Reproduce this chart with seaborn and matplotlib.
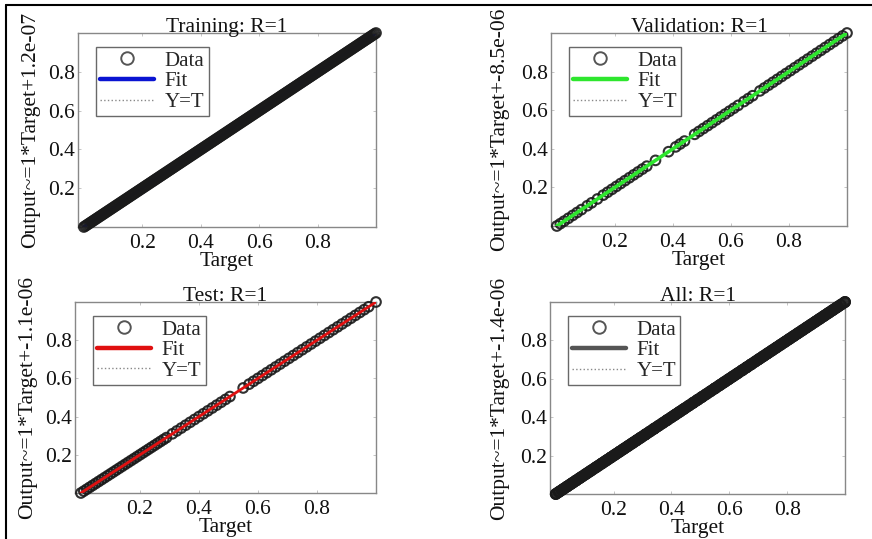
import matplotlib
matplotlib.use("Agg")
import matplotlib.pyplot as plt
import seaborn as sns
import pandas as pd
from matplotlib.lines import Line2D

sns.set_theme(style="white")
plt.rcParams['font.family'] = ['Liberation Serif', 'DejaVu Serif']

# ---- data (targets; outputs equal targets, R=1) ----
training_targets = [
    0.000, 0.005, 0.010, 0.015, 0.020, 0.025, 0.030, 0.035, 0.040, 0.045,
    0.050, 0.055, 0.060, 0.065, 0.070, 0.075, 0.080, 0.085, 0.090, 0.095,
    0.100, 0.105, 0.110, 0.115, 0.120, 0.125, 0.130, 0.135, 0.140, 0.145,
    0.150, 0.155, 0.160, 0.165, 0.170, 0.175, 0.180, 0.185, 0.190, 0.195,
    0.200, 0.205, 0.210, 0.215, 0.220, 0.225, 0.230, 0.235, 0.240, 0.245,
    0.250, 0.255, 0.260, 0.265, 0.270, 0.275, 0.280, 0.285, 0.290, 0.295,
    0.300, 0.305, 0.310, 0.315, 0.320, 0.325, 0.330, 0.335, 0.340, 0.345,
    0.350, 0.355, 0.360, 0.365, 0.370, 0.375, 0.380, 0.385, 0.390, 0.395,
    0.400, 0.405, 0.410, 0.415, 0.420, 0.425, 0.430, 0.435, 0.440, 0.445,
    0.450, 0.455, 0.460, 0.465, 0.470, 0.475, 0.480, 0.485, 0.490, 0.495,
    0.500, 0.505, 0.510, 0.515, 0.520, 0.525, 0.530, 0.535, 0.540, 0.545,
    0.550, 0.555, 0.560, 0.565, 0.570, 0.575, 0.580, 0.585, 0.590, 0.595,
    0.600, 0.605, 0.610, 0.615, 0.620, 0.625, 0.630, 0.635, 0.640, 0.645,
    0.650, 0.655, 0.660, 0.665, 0.670, 0.675, 0.680, 0.685, 0.690, 0.695,
    0.700, 0.705, 0.710, 0.715, 0.720, 0.725, 0.730, 0.735, 0.740, 0.745,
    0.750, 0.755, 0.760, 0.765, 0.770, 0.775, 0.780, 0.785, 0.790, 0.795,
    0.800, 0.805, 0.810, 0.815, 0.820, 0.825, 0.830, 0.835, 0.840, 0.845,
    0.850, 0.855, 0.860, 0.865, 0.870, 0.875, 0.880, 0.885, 0.890, 0.895,
    0.900, 0.905, 0.910, 0.915, 0.920, 0.925, 0.930, 0.935, 0.940, 0.945,
    0.950, 0.955, 0.960, 0.965, 0.970, 0.975, 0.980, 0.985, 0.990, 0.995,
    1.000]
validation_targets = [
    0.000, 0.012, 0.025, 0.040, 0.055, 0.070, 0.085, 0.105, 0.120, 0.140,
    0.160, 0.175, 0.190, 0.205, 0.220, 0.235, 0.250, 0.265, 0.280, 0.295,
    0.310, 0.340, 0.385, 0.410, 0.425, 0.440, 0.475, 0.490, 0.505, 0.520,
    0.535, 0.550, 0.565, 0.580, 0.595, 0.610, 0.625, 0.645, 0.660, 0.675,
    0.700, 0.715, 0.730, 0.745, 0.760, 0.775, 0.790, 0.805, 0.820, 0.835,
    0.850, 0.865, 0.880, 0.895, 0.910, 0.925, 0.940, 0.955, 0.970, 0.985,
    1.000]
test_targets = [
    0.000, 0.010, 0.020, 0.030, 0.040, 0.050, 0.060, 0.070, 0.080, 0.090,
    0.100, 0.110, 0.120, 0.130, 0.140, 0.150, 0.160, 0.170, 0.180, 0.190,
    0.200, 0.210, 0.220, 0.230, 0.240, 0.250, 0.260, 0.270, 0.280, 0.290,
    0.310, 0.325, 0.340, 0.355, 0.370, 0.385, 0.400, 0.415, 0.430, 0.445,
    0.460, 0.475, 0.490, 0.505, 0.550, 0.570, 0.585, 0.600, 0.615, 0.630,
    0.645, 0.660, 0.675, 0.690, 0.705, 0.720, 0.735, 0.750, 0.765, 0.780,
    0.795, 0.810, 0.825, 0.840, 0.855, 0.870, 0.885, 0.900, 0.915, 0.930,
    0.945, 0.960, 0.975, 1.000]
all_targets = training_targets + validation_targets + test_targets

panel_titles = ["Training: R=1", "Validation: R=1", "Test: R=1", "All: R=1"]
panel_ylabels = ["Output~=1*Target+1.2e-07", "Output~=1*Target+-8.5e-06",
                 "Output~=1*Target+-1.1e-06", "Output~=1*Target+-1.4e-06"]
panel_targets = [training_targets, validation_targets, test_targets, all_targets]
panel_fit_colors = ["#0a14d2", "#2ee62e", "#e01010", "#555555"]
tick_values = [0.2, 0.4, 0.6, 0.8]
tick_labels = ["0.2", "0.4", "0.6", "0.8"]

# ---- layout ----
fig = plt.figure(figsize=(8.72, 5.39), dpi=100)
W, H = 872, 539
boxes = [(78, 33, 376, 227), (551, 33, 847, 226), (75, 302, 376, 493), (550, 302, 845, 494)]
ylabel_pads = [6, 9, 6, 8]
fit_on_top = [False, True, True, False]
fit_widths = [2.6, 2.6, 2.0, 2.6]
FS = 15.5

for i in range(4):
    l, t, r, b = boxes[i]
    ax = fig.add_axes([l / W, 1 - b / H, (r - l) / W, (b - t) / H])
    tg = panel_targets[i]
    df = pd.DataFrame({"Target": tg, "Output": tg})
    line_df = pd.DataFrame({"Target": [0.0, 1.0], "Output": [0.0, 1.0]})

    sns.lineplot(data=line_df, x="Target", y="Output", ax=ax, color="#888888",
                 linestyle=":", linewidth=1.0, zorder=1)
    sns.lineplot(data=line_df, x="Target", y="Output", ax=ax,
                 color=panel_fit_colors[i], linewidth=fit_widths[i],
                 zorder=4 if fit_on_top[i] else 2)
    sns.scatterplot(data=df, x="Target", y="Output", ax=ax, marker="o",
                    facecolor="none", edgecolor="#1a1a1a", s=48, linewidth=1.5,
                    alpha=0.9, zorder=3, clip_on=False)

    ax.set_xlim(-0.02, 1.0)
    ax.set_ylim(0.0, 1.0)
    ax.set_xticks(tick_values)
    ax.set_xticklabels(tick_labels)
    ax.set_yticks(tick_values)
    ax.set_yticklabels(tick_labels)
    ax.tick_params(axis="both", direction="in", length=2.5, width=0.6,
                   color="#bbbbbb", labelsize=FS, pad=2, top=True, right=True,
                   bottom=True, left=True, labelcolor="#111111")
    ax.tick_params(axis="x", pad=5)
    for sp in ax.spines.values():
        sp.set_color("#888888")
        sp.set_linewidth(1.0)
    ax.set_title(panel_titles[i], fontsize=FS, pad=1, color="#111111")
    ax.set_xlabel("Target", fontsize=FS, labelpad=-1, color="#111111")
    ax.set_ylabel(panel_ylabels[i], fontsize=FS, labelpad=ylabel_pads[i], color="#111111")

    handles = [
        Line2D([], [], marker="o", linestyle="none", markerfacecolor="none",
               markeredgecolor="#555555", markersize=9, markeredgewidth=1.4),
        Line2D([], [], color=panel_fit_colors[i], linewidth=3.2),
        Line2D([], [], color="#888888", linestyle=":", linewidth=1.0),
    ]
    leg = ax.legend(handles, ["Data", "Fit", "Y=T"], loc="upper left",
                    bbox_to_anchor=(0.06, 0.928), fontsize=FS - 0.5, frameon=True,
                    fancybox=False, edgecolor="#444444", handlelength=2.6,
                    handletextpad=0.5, labelspacing=0.05, borderpad=0.2,
                    borderaxespad=0.0)
    leg.get_frame().set_linewidth(1.0)

# figure border (left and top)
fig.add_artist(Line2D([6 / W, 6 / W], [0, 1 - 5 / H], color="black", linewidth=1.5,
                      transform=fig.transFigure))
fig.add_artist(Line2D([6 / W, 1], [1 - 5 / H, 1 - 5 / H], color="black", linewidth=1.5,
                      transform=fig.transFigure))

fig.savefig("out.png", dpi=100)
